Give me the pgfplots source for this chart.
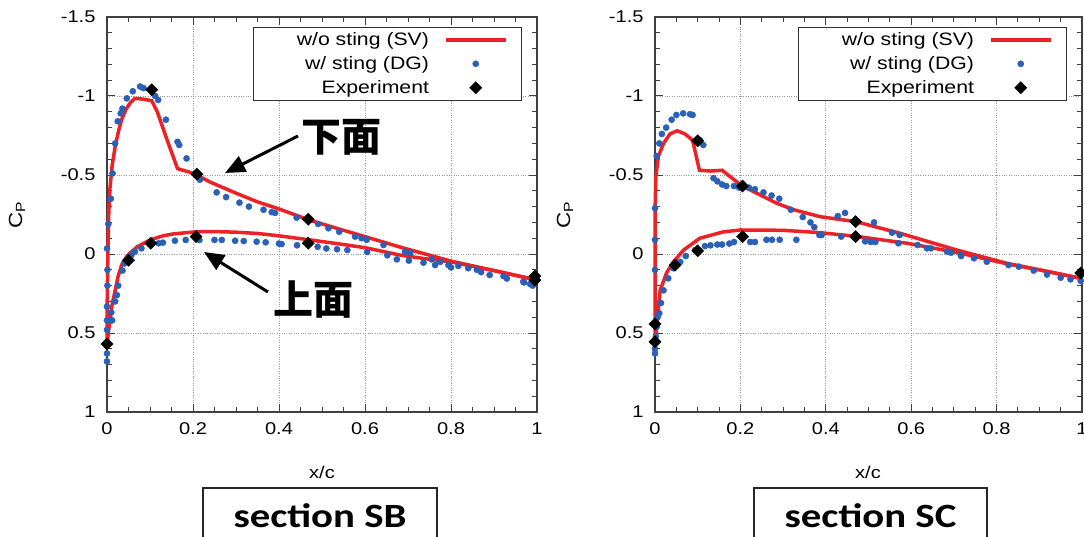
\documentclass[border=0pt]{standalone}
\usepackage{fontspec}
\setmainfont{Liberation Sans}[FakeStretch=1.18]
\newfontfamily\secfont{Carlito}[FakeStretch=1.2]
\newfontfamily\jpfont{Noto Sans CJK JP}
\usepackage{pgfplots}
\pgfplotsset{compat=1.18}
\usepackage{pgfplotstable}
\usetikzlibrary{arrows.meta}

\definecolor{svred}{RGB}{236,34,39}
\definecolor{dgblue}{RGB}{42,96,182}

% ---------- section SB ----------
\pgfplotstableread{
x y
0.000 0.60
0.000 0.40
0.001 0.20
0.002 0.00
0.004 -0.25
0.007 -0.42
0.012 -0.56
0.019 -0.68
0.027 -0.78
0.034 -0.85
0.045 -0.92
0.055 -0.96
0.065 -0.985
0.085 -0.98
0.104 -0.97
0.117 -0.90
0.140 -0.72
0.164 -0.54
0.190 -0.52
0.209 -0.50
0.240 -0.455
0.270 -0.42
0.300 -0.385
0.350 -0.33
0.400 -0.285
0.470 -0.215
0.550 -0.15
0.600 -0.11
0.680 -0.045
0.740 0.00
0.800 0.045
0.900 0.105
1.000 0.165
}\sbSVupper

\pgfplotstableread{
x y
0.000 0.60
0.003 0.50
0.007 0.42
0.012 0.32
0.019 0.23
0.026 0.14
0.034 0.07
0.045 0.02
0.053 -0.005
0.070 -0.045
0.100 -0.089
0.130 -0.115
0.154 -0.127
0.209 -0.141
0.250 -0.142
0.300 -0.138
0.350 -0.130
0.400 -0.115
0.470 -0.090
0.550 -0.060
0.600 -0.040
0.680 0.006
0.740 0.030
0.800 0.050
0.900 0.105
1.000 0.165
}\sbSVlower

\pgfplotstableread{
x y
0.000 0.68
0.000 0.63
0.000 0.565
0.000 0.48
0.000 0.42
0.000 0.333
0.001 0.20
0.001 0.10
0.000 -0.035
0.003 -0.19
0.009 -0.35
0.013 -0.51
0.019 -0.70
0.025 -0.84
0.032 -0.89
0.036 -0.92
0.046 -0.985
0.060 -1.03
0.077 -1.06
0.085 -1.05
0.112 -1.00
0.119 -0.975
0.137 -0.85
0.164 -0.71
0.168 -0.69
0.185 -0.605
0.216 -0.47
0.255 -0.39
0.277 -0.36
0.308 -0.325
0.330 -0.30
0.364 -0.28
0.383 -0.265
0.391 -0.26
0.441 -0.23
0.491 -0.19
0.515 -0.163
0.540 -0.141
0.577 -0.11
0.592 -0.10
0.604 -0.09
0.643 -0.057
0.693 -0.015
0.705 -0.006
0.755 0.034
0.775 0.05
0.794 0.07
0.817 0.075
0.840 0.09
0.860 0.10
0.890 0.133
0.922 0.14
0.968 0.175
0.984 0.19
0.990 0.20
0.007 0.42
0.012 0.42
0.010 0.37
0.019 0.30
0.023 0.26
0.026 0.20
0.036 0.105
0.040 0.06
0.057 0.006
0.065 -0.015
0.080 -0.036
0.100 -0.063
0.120 -0.068
0.130 -0.072
0.158 -0.084
0.183 -0.089
0.215 -0.089
0.250 -0.089
0.267 -0.089
0.298 -0.084
0.318 -0.082
0.348 -0.078
0.369 -0.074
0.400 -0.066
0.406 -0.063
0.442 -0.055
0.490 -0.046
0.510 -0.035
0.535 -0.030
0.559 -0.025
0.605 -0.013
0.652 0.008
0.674 0.034
0.702 0.042
0.736 0.055
0.763 0.070
0.800 0.085
0.870 0.115
0.930 0.155
0.970 0.180
}\sbDG

\pgfplotstableread{
x y
0.000 0.57
0.050 0.04
0.102 -0.068
0.207 -0.11
0.468 -0.068
0.468 -0.22
0.209 -0.506
0.104 -1.04
0.995 0.14
0.995 0.165
}\sbEXP

% ---------- section SC ----------
\pgfplotstableread{
x y
0.000 0.60
0.000 0.30
0.000 0.00
0.000 -0.26
0.002 -0.49
0.008 -0.62
0.020 -0.70
0.035 -0.76
0.052 -0.78
0.070 -0.76
0.088 -0.72
0.104 -0.53
0.130 -0.525
0.157 -0.53
0.204 -0.43
0.239 -0.384
0.286 -0.32
0.325 -0.28
0.387 -0.236
0.470 -0.205
0.574 -0.131
0.707 -0.025
0.824 0.059
0.900 0.100
0.997 0.154
}\scSVupper

\pgfplotstableread{
x y
0.000 0.60
0.004 0.46
0.012 0.23
0.027 0.12
0.043 0.05
0.067 -0.025
0.105 -0.10
0.160 -0.14
0.200 -0.152
0.300 -0.150
0.387 -0.135
0.470 -0.112
0.590 -0.068
0.707 -0.010
0.824 0.062
0.900 0.100
0.997 0.154
}\scSVlower

\pgfplotstableread{
x y
0.000 0.10
0.000 -0.09
0.000 -0.29
0.004 -0.62
0.010 -0.70
0.016 -0.76
0.026 -0.80
0.039 -0.85
0.050 -0.88
0.066 -0.89
0.082 -0.885
0.088 -0.88
0.105 -0.72
0.113 -0.69
0.137 -0.48
0.146 -0.46
0.157 -0.44
0.167 -0.43
0.185 -0.43
0.197 -0.42
0.220 -0.42
0.234 -0.41
0.254 -0.39
0.273 -0.37
0.291 -0.35
0.318 -0.28
0.346 -0.234
0.364 -0.20
0.373 -0.17
0.428 -0.24
0.445 -0.26
0.513 -0.20
0.555 -0.135
0.573 -0.12
0.615 -0.057
0.646 -0.036
0.693 -0.008
0.716 0.006
0.747 0.027
0.777 0.049
0.828 0.070
0.852 0.080
0.887 0.105
0.918 0.130
0.950 0.150
0.973 0.160
0.997 0.170
0.000 0.63
0.000 0.60
0.002 0.52
0.004 0.46
0.006 0.40
0.010 0.375
0.014 0.31
0.020 0.23
0.031 0.154
0.043 0.09
0.059 0.05
0.072 0.013
0.094 -0.025
0.117 -0.05
0.130 -0.055
0.146 -0.06
0.157 -0.06
0.174 -0.066
0.185 -0.076
0.223 -0.076
0.234 -0.076
0.261 -0.09
0.274 -0.09
0.292 -0.09
0.331 -0.09
0.385 -0.12
0.390 -0.12
0.436 -0.11
0.492 -0.08
0.505 -0.076
0.516 -0.076
0.570 -0.068
0.637 -0.036
0.684 -0.015
0.717 0.013
}\scDG

\pgfplotstableread{
x y
0.000 0.443
0.000 0.555
0.047 0.07
0.100 -0.02
0.205 -0.11
0.470 -0.11
0.470 -0.205
0.205 -0.43
0.100 -0.717
0.997 0.12
}\scEXP

\pgfplotsset{
  cpaxis/.style={
    scale only axis, height=395bp,
    xmin=0, xmax=1, ymin=-1.5, ymax=1, y dir=reverse,
    xtick={0,0.2,0.4,0.6,0.8,1}, xticklabels={0,0.2,0.4,0.6,0.8,1},
    ytick={-1.5,-1,-0.5,0,0.5,1}, yticklabels={-1.5,-1,-0.5,0,0.5,1},
    minor x tick num=3, minor y tick num=4,
    tick align=inside, tick pos=both,
    major tick length=8bp, minor tick length=5bp,
    grid=major, major grid style={dotted, black!40, line width=0.8bp},
    axis line style={line width=1.2bp, black!75},
    every tick/.append style={line width=1bp, black!75},
    tick label style={font=\fontsize{17bp}{20bp}\selectfont},
    xticklabel style={yshift=-7bp},
    yticklabel style={xshift=-8bp},
    clip=false,
    legend plot pos=right,
    legend image code/.code={\draw[mark repeat=2,mark phase=2,#1] plot coordinates {(0bp,0bp) (30bp,0bp) (60bp,0bp)};},
    legend style={at={(1,1)}, anchor=north east, xshift=-15bp, yshift=-10bp,
      draw=black!80, line width=1bp, font=\fontsize{18bp}{21bp}\selectfont,
      inner xsep=14bp, inner ysep=3bp, column sep=13bp, row sep=5.5bp,
      cells={anchor=east, inner xsep=0bp}},
  },
  sv/.style={svred, line width=3.5bp, no marks},
  dg/.style={only marks, mark=*, mark size=3.1bp, color=dgblue, mark options={draw=dgblue, fill=dgblue, line width=0.4pt}},
  ex/.style={only marks, mark=square*, mark size=4.3bp, color=black, mark options={rotate=45, fill=black, line width=0.4pt}},
}

\begin{document}
\begin{tikzpicture}
\useasboundingbox (0,0) rectangle (1084bp,537bp);

% left panel
\begin{axis}[cpaxis, at={(107bp,125bp)}, anchor=south west, width=430bp]
  \addplot[sv] table {\sbSVupper};
  \addlegendentry{\hspace*{27bp}w/o sting (SV)}
  \addplot[sv, forget plot] table {\sbSVlower};
  \addplot[dg] table {\sbDG};
  \addlegendentry{w/ sting (DG)}
  \addplot[ex] table {\sbEXP};
  \addlegendentry{Experiment}
\end{axis}

% right panel
\begin{axis}[cpaxis, at={(655bp,125bp)}, anchor=south west, width=427bp]
  \addplot[sv] table {\scSVupper};
  \addlegendentry{\hspace*{27bp}w/o sting (SV)}
  \addplot[sv, forget plot] table {\scSVlower};
  \addplot[dg] table {\scDG};
  \addlegendentry{w/ sting (DG)}
  \addplot[ex] table {\scEXP};
  \addlegendentry{Experiment}
\end{axis}

% axis titles
\node[rotate=90, font=\fontsize{19bp}{22bp}\selectfont] at (17bp,322bp) {C\textsubscript{P}};
\node[rotate=90, font=\fontsize{19bp}{22bp}\selectfont] at (565bp,322bp) {C\textsubscript{P}};
\node[font=\fontsize{17bp}{20bp}\selectfont] at (322bp,65bp) {x/c};
\node[font=\fontsize{17bp}{20bp}\selectfont] at (868bp,65bp) {x/c};

% surface annotations
\draw[line width=3bp, -{Triangle[length=20bp,width=17bp]}] (298bp,401bp) -- (225bp,364bp);
\node[font=\jpfont\bfseries\fontsize{40bp}{44bp}\selectfont] at (341bp,400bp) {下面};
\draw[line width=3bp, -{Triangle[length=20bp,width=17bp]}] (268bp,245bp) -- (204bp,285bp);
\node[font=\jpfont\bfseries\fontsize{40bp}{44bp}\selectfont] at (313bp,237bp) {上面};

% section captions
\draw[line width=2bp, black!85] (203bp,-5bp) rectangle (437bp,49bp);
\node[anchor=base, font=\secfont\bfseries\fontsize{34bp}{38bp}\selectfont] at (320bp,10bp) {section SB};
\draw[line width=2bp, black!85] (754bp,-5bp) rectangle (987bp,49bp);
\node[anchor=base, font=\secfont\bfseries\fontsize{34bp}{38bp}\selectfont] at (870.5bp,10bp) {section SC};
\end{tikzpicture}
\end{document}
